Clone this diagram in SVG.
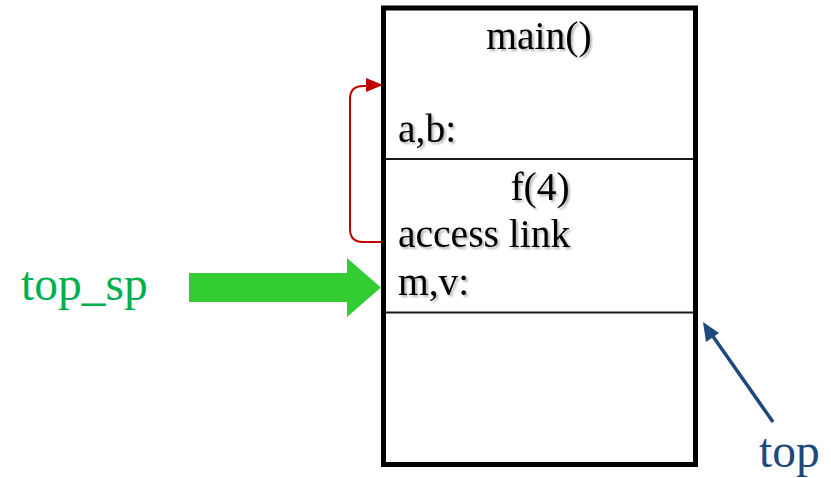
<svg xmlns="http://www.w3.org/2000/svg" width="831" height="478" viewBox="0 0 831 478">
  <style>
    .cell { font-family: "Liberation Serif", "Times New Roman", serif; font-size: 39.5px; fill: #000; filter: url(#shadow); }
    .label { font-family: "Liberation Serif", "Times New Roman", serif; font-size: 47.5px; }
    .frame { fill: none; stroke: #000; stroke-width: 5; }
    .divider { stroke: #1a1a1a; stroke-width: 2; }
  </style>
  <defs>
    <filter id="shadow" x="-10%" y="-20%" width="130%" height="150%">
      <feDropShadow dx="2" dy="2" stdDeviation="1.2" flood-color="#000" flood-opacity="0.3"/>
    </filter>
  </defs>
  <rect width="831" height="478" fill="#fff"/>

  <!-- activation record stack -->
  <g id="stack">
    <rect class="frame" x="383.5" y="8" width="312" height="456.5"/>
    <line class="divider" x1="386" y1="159" x2="693" y2="159"/>
    <line class="divider" x1="386" y1="312.5" x2="693" y2="312.5"/>
  </g>

  <g id="main-frame">
    <text class="cell" x="539" y="49" text-anchor="middle">main()</text>
    <text class="cell" x="398" y="142">a,b:</text>
  </g>

  <g id="f-frame">
    <text class="cell" x="540" y="200" text-anchor="middle">f(4)</text>
    <text class="cell" x="398" y="247">access link</text>
    <text class="cell" x="398" y="295">m,v:</text>
  </g>

  <g id="top-sp">
    <text class="label" x="21" y="300" fill="#00B050">top_sp</text>
  </g>

  <g id="top">
    <text class="label" x="759" y="467" fill="#1F497D">top</text>
  </g>

  <g id="connectors">
    <!-- access link pointing back to main() -->
    <path d="M381,242 L363,242 Q350,242 350,229 L350,99 Q350,86 363,86 L368,86" fill="none" stroke="#C00000" stroke-width="2"/>
    <polygon points="366,78 383,85 366,92" fill="#C00000"/>
    <!-- top_sp pointer -->
    <polygon points="189,273 347,273 347,258 381,287.5 347,317 347,302 189,302" fill="#33CC33"/>
    <!-- top pointer -->
    <line x1="773" y1="422" x2="712" y2="335" stroke="#1F497D" stroke-width="3.5"/>
    <polygon points="703,322 719,333 706,342" fill="#1F497D"/>
  </g>
</svg>
